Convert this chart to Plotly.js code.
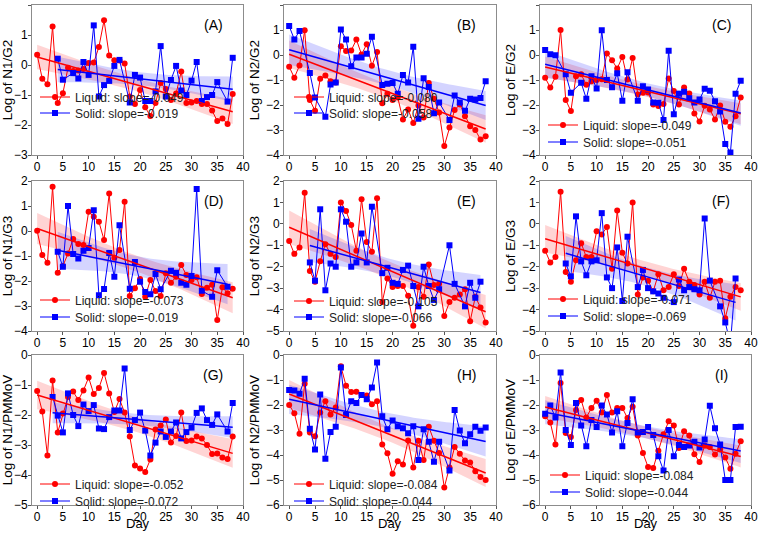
<!DOCTYPE html>
<html><head><meta charset="utf-8">
<script src="https://cdn.plot.ly/plotly-3.0.1.min.js"></script>
<style>html,body{margin:0;padding:0;background:#fff}</style>
</head><body><div id="chart" style="width:759px;height:533px"></div>
<script>
// ---------------- data ----------------
const days = [0,1,2,3,4,5,6,7,8,9,10,11,12,13,14,15,16,17,18,19,20,21,22,23,24,25,26,27,28,29,30,31,32,33,34,35,36,37,38];

const liquidA = [0.34,-0.46,-0.64,1.28,-1.27,-0.94,-0.09,-0.2,-0.18,-0.13,0.07,0.08,0.6,1.49,0.32,0.16,0.15,0.05,-1.05,-1.3,-0.83,-1.41,-1.7,-1.27,-0.6,-0.8,-1.17,-0.95,-0.22,-1.27,-1.25,-1.2,-1.3,-1.3,-1.52,-1.87,-1.78,-1.97,-0.97];
const solidDaysA = [4,5,7,8,9,10,11,12,13,14,15,16,18,19,20,21,22,23,24,25,26,27,28,29,30,31,32,33,34,35,37,38];
const solidA = [0.21,-0.49,-0.27,-0.45,0.1,-0.33,1.32,-1.05,-0.67,-0.53,-0.03,0.17,-1.25,-0.33,-0.42,-1.2,-1.2,-0.88,0.63,-1.05,-0.5,-0.03,-0.85,-1.0,-0.52,0.1,-1.2,-1.07,-1.0,-0.57,-1.22,0.24];

const liquidB = [-0.47,-0.91,-0.42,0.99,-1.8,-2.23,-0.95,-0.82,-1.05,-1.1,0.35,0.16,0.18,0.62,0.02,0.43,-0.43,0.12,-1.93,-1.55,-1.8,-1.7,-2.58,-2.18,-2.72,-2.02,-2.5,-1.12,-1.75,-2.3,-3.64,-2.9,-2.2,-1.98,-2.45,-2.85,-3.0,-3.38,-3.25];
const solidDaysB = [0,1,2,4,5,7,8,9,10,11,12,13,14,15,16,18,19,20,21,22,23,24,25,26,27,28,29,31,32,33,34,35,36,37,38];
const solidB = [1.16,0.62,0.96,-0.72,-1.7,-2.47,-1.18,-1.1,1.02,0.62,-0.45,-0.1,-0.1,0.05,0.73,-1.2,-1.15,-1.12,-1.55,-0.8,-1.1,0.33,-2.55,-0.93,-1.28,-2.33,-1.9,-2.6,-1.62,-1.9,-2.23,-1.75,-1.78,-1.72,-1.05];

const liquidC = [-0.91,-1.3,-0.87,1.0,-1.8,-2.24,-0.85,-0.77,-1.19,-1.05,-1.0,-0.97,0.06,-0.21,-0.54,-0.08,-0.98,-0.12,-1.58,-1.51,-1.5,-1.98,-2.04,-1.96,-0.94,-1.44,-1.98,-1.3,-1.54,-2.34,-2.66,-2.03,-2.18,-2.58,-2.02,-2.67,-2.87,-2.45,-1.7];
const solidDaysC = [0,1,2,4,5,7,8,9,10,11,12,13,14,15,16,18,19,20,21,22,23,24,25,26,27,28,29,30,31,32,33,34,35,36,37,38];
const solidC = [0.2,0.03,-0.01,-0.77,-1.51,-1.11,-1.75,-0.85,-1.34,0.99,-1.0,-1.29,-0.73,-1.83,-0.69,-1.83,-1.25,-1.38,-1.9,-1.91,-2.6,0.17,-2.37,-1.55,-1.47,-1.73,-1.9,-1.78,-1.35,-1.43,-1.85,-2.26,-3.56,-3.9,-1.55,-1.03];

const liquidD = [0.01,-0.96,-1.27,1.77,-1.67,-1.4,-0.9,-0.32,-0.52,-0.56,0.77,0.57,0.37,-0.36,1.5,-1.07,-0.76,1.17,-2.6,-2.29,-1.92,-2.63,-1.96,-2.4,-2.6,-1.69,-2.07,-1.83,-1.36,-1.76,-1.96,-1.85,-2.52,-2.27,-2.15,-3.56,-2.25,-2.49,-2.31];
const solidDaysD = [4,5,6,7,8,9,10,11,12,13,14,15,16,18,19,20,21,22,23,24,26,27,28,29,30,31,32,34,35,37];
const solidD = [-0.83,-1.43,1.0,-0.92,-1.1,-0.79,-0.68,0.83,-2.57,-2.32,-0.88,-1.83,0.23,-2.31,-1.24,-2.03,-2.44,-2.53,-1.72,-2.33,-1.59,-1.67,-2.07,-2.15,-1.8,1.68,-2.39,-2.63,-1.57,-2.23];

const liquidE = [-0.8,-1.4,-1.1,1.45,-2.2,-2.7,-1.75,-0.95,-1.4,-1.55,1.0,0.6,-0.05,-1.25,1.15,-0.85,-1.3,1.2,-3.65,-2.55,-2.95,-2.9,-2.9,-3.35,-4.75,-2.95,-3.4,-1.9,-2.85,-2.8,-4.3,-3.65,-3.45,-3.3,-3.05,-4.55,-3.4,-3.9,-4.6];
const solidDaysE = [4,5,6,7,8,9,10,11,12,13,14,15,16,18,19,20,21,22,23,24,25,26,27,28,29,31,32,34,35,36,37];
const solidE = [-1.8,-2.65,0.68,-3.1,-1.85,-2.0,0.68,0.1,-2.0,-1.8,-0.45,-1.8,0.8,-2.3,-2.05,-2.75,-2.8,-2.15,-1.95,-2.9,-3.85,-2.0,-2.9,-3.55,-3.05,-1.0,-2.8,-3.85,-2.75,-3.45,-2.7];

const liquidF = [-1.25,-1.8,-1.55,1.5,-2.25,-2.7,-1.7,-0.9,-1.55,-1.55,-0.35,-0.5,-0.15,-2.1,0.62,-1.35,-1.85,1.0,-3.3,-2.5,-2.65,-3.15,-2.35,-3.1,-2.95,-2.35,-2.9,-2.1,-2.7,-2.85,-3.3,-2.7,-3.45,-2.7,-2.65,-4.4,-3.4,-2.95,-3.1];
const solidDaysF = [4,5,6,7,8,9,10,11,12,13,14,15,16,18,19,20,21,22,23,25,26,27,28,29,30,31,32,34,35,36,37];
const solidF = [-1.85,-2.45,0.35,-1.75,-2.4,-1.75,-1.7,0.5,-2.5,-3.0,-1.1,-3.6,-0.6,-2.95,-2.15,-3.0,-3.15,-3.25,-3.45,-3.65,-2.6,-3.1,-2.95,-3.05,-3.1,0.25,-2.65,-3.85,-4.6,-5.6,-2.55];

const liquidG = [-1.2,-1.88,-3.35,-0.85,-2.58,-1.95,-1.4,-1.22,-1.5,-1.18,-0.75,-1.3,-1.1,-0.6,-1.28,-1.9,-1.47,-1.92,-2.72,-3.68,-3.78,-3.9,-3.48,-2.48,-2.35,-2.15,-2.92,-2.7,-1.92,-2.87,-2.85,-2.72,-2.78,-3.0,-3.3,-3.28,-3.42,-3.47,-2.72];
const solidDaysG = [3,4,5,6,7,8,9,10,11,12,13,14,15,16,17,18,19,20,21,22,23,24,25,26,27,28,29,30,31,32,33,34,35,37,38];
const solidG = [-1.4,-2.02,-2.58,-1.28,-2.0,-2.37,-1.65,-1.87,-1.67,-2.45,-2.47,-2.07,-1.85,-1.85,-0.45,-2.5,-2.17,-1.92,-2.52,-3.35,-2.92,-2.55,-2.73,-2.55,-2.25,-2.78,-2.57,-2.42,-1.93,-1.78,-2.17,-2.33,-1.98,-2.55,-1.6];

const liquidH = [-2.0,-2.33,-3.15,-1.15,-3.1,-3.25,-2.3,-1.85,-2.38,-2.1,-0.45,-1.23,-1.48,-1.47,-1.6,-1.62,-1.97,-1.85,-3.58,-3.93,-4.75,-4.25,-4.38,-3.42,-4.5,-3.43,-4.2,-2.87,-3.43,-3.92,-5.3,-4.5,-3.68,-3.95,-4.22,-4.3,-4.65,-4.88,-5.0];
const solidDaysH = [0,1,2,3,4,5,6,7,8,9,10,11,12,13,14,15,16,17,18,19,20,21,22,23,24,25,26,27,28,29,31,32,33,34,35,36,37,38];
const solidH = [-1.4,-1.42,-1.55,-0.95,-2.95,-3.78,-1.58,-4.15,-3.08,-2.87,-0.5,-2.4,-1.85,-1.92,-1.6,-1.77,-1.3,-0.3,-2.45,-2.97,-2.62,-2.85,-2.93,-3.13,-2.85,-4.2,-2.97,-3.47,-4.27,-3.47,-4.62,-2.2,-3.02,-3.53,-3.17,-2.87,-3.03,-2.9];

const liquidI = [-2.45,-2.7,-3.58,-1.12,-3.12,-3.28,-2.2,-1.8,-2.5,-2.12,-1.83,-2.3,-1.6,-2.3,-2.12,-2.12,-2.52,-2.07,-3.22,-3.92,-4.48,-4.52,-3.83,-3.17,-2.65,-2.82,-3.72,-3.05,-3.22,-3.97,-4.28,-3.62,-3.68,-3.98,-3.78,-4.1,-4.55,-3.95,-3.45];
const solidDaysI = [0,1,2,3,4,5,6,7,8,9,10,11,12,13,14,15,16,17,18,19,20,21,22,23,24,25,26,27,28,29,30,31,32,33,34,35,36,37,38];
const solidI = [-2.35,-2.02,-2.5,-0.7,-3.0,-3.6,-1.92,-2.82,-3.65,-2.6,-2.88,-2.02,-2.38,-3.1,-2.25,-3.65,-2.72,-1.77,-3.1,-3.08,-2.88,-3.2,-4.05,-4.62,-3.0,-4.05,-3.6,-3.68,-3.62,-3.47,-3.7,-3.38,-2.03,-2.93,-3.58,-5.0,-5.0,-2.88,-2.87];

const panelLabels = ['(A)','(B)','(C)','(D)','(E)','(F)','(G)','(H)','(I)'];
const yTitles = ['Log of N1/G2','Log of N2/G2','Log of E/G2','Log of N1/G3','Log of N2/G3','Log of E/G3','Log of N1/PMMoV','Log of N2/PMMoV','Log of E/PMMoV'];
const liquidLabels = ['Liquid: slope=-0.049','Liquid: slope=-0.080','Liquid: slope=-0.049','Liquid: slope=-0.073','Liquid: slope=-0.105','Liquid: slope=-0.071','Liquid: slope=-0.052','Liquid: slope=-0.084','Liquid: slope=-0.084'];
const solidLabels = ['Solid: slope=-0.019','Solid: slope=-0.058','Solid: slope=-0.051','Solid: slope=-0.019','Solid: slope=-0.066','Solid: slope=-0.069','Solid: slope=-0.072','Solid: slope=-0.044','Solid: slope=-0.044'];
const yMin = [-3,-4,-4,-4,-5,-5,-5,-6,-6];
const yMax = [2,2,2,2,2,2,0,0,0];
const xTitle = 'Day';

const liquidSeries = [liquidA,liquidB,liquidC,liquidD,liquidE,liquidF,liquidG,liquidH,liquidI];
const solidDaySeries = [solidDaysA,solidDaysB,solidDaysC,solidDaysD,solidDaysE,solidDaysF,solidDaysG,solidDaysH,solidDaysI];
const solidSeries = [solidA,solidB,solidC,solidD,solidE,solidF,solidG,solidH,solidI];

// ---------------- layout geometry (px) ----------------
const W = 759, H = 533;
const ML = 32, MR = 8, MT = 5, MB = 28;
const PW = W - ML - MR, PH = H - MT - MB;
const fx = p => (p - ML) / PW;
const fy = p => (H - MB - p) / PH;
const colL = [32, 284, 540], colR = [243, 496, 751];
const rowT = [5, 181, 355], rowB = [155, 331, 505];
const legRow1 = [97, 97, 125, 300, 301, 299, 484, 484, 475];
const legRow2 = [113, 113, 142, 317, 317, 316, 501, 501, 492];
const legLineX = [44, 298, 552, 44, 298, 552, 44, 298, 554];
const FONT = 'Liberation Sans, Arial, sans-serif';
const RED = '#ff0000', BLUE = '#0000ff';

function fit(xs, ys) {
  const n = xs.length;
  const mx = xs.reduce((a, b) => a + b, 0) / n;
  const my = ys.reduce((a, b) => a + b, 0) / n;
  let sxx = 0, sxy = 0;
  for (let i = 0; i < n; i++) { sxx += (xs[i] - mx) ** 2; sxy += (xs[i] - mx) * (ys[i] - my); }
  const b = sxy / sxx, a = my - b * mx;
  let sse = 0;
  for (let i = 0; i < n; i++) sse += (ys[i] - a - b * xs[i]) ** 2;
  const s = Math.sqrt(sse / (n - 2));
  const t = 2.03;
  const x0 = Math.min(...xs), x1 = Math.max(...xs);
  const gx = [], hi = [], lo = [], yy = [];
  for (let k = 0; k <= 60; k++) {
    const x = x0 + (x1 - x0) * k / 60;
    const yh = a + b * x;
    const h = t * s * Math.sqrt(1 / n + (x - mx) ** 2 / sxx);
    gx.push(x); yy.push(yh); hi.push(yh + h); lo.push(yh - h);
  }
  return { gx, yy, hi, lo };
}

const traces = [];
const layout = {
  width: W, height: H,
  margin: { l: ML, r: MR, t: MT, b: MB },
  paper_bgcolor: '#fff', plot_bgcolor: '#fff',
  font: { family: FONT, size: 12, color: '#000' },
  showlegend: true,
  annotations: []
};

function legendBox(lineX, cy) {
  return {
    x: fx(lineX - 9), y: fy(cy), xanchor: 'left', yanchor: 'middle',
    xref: 'paper', yref: 'paper',
    bgcolor: 'rgba(0,0,0,0)', borderwidth: 0, itemwidth: 30,
    font: { family: FONT, size: 12, color: '#222' }
  };
}

for (let i = 0; i < 9; i++) {
  const r = Math.floor(i / 3), c = i % 3;
  const sfx = i === 0 ? '' : String(i + 1);
  const xa = 'x' + sfx, ya = 'y' + sfx;
  const legL = 'legend' + (2 * i + 1 === 1 ? '' : String(2 * i + 1));
  const legS = 'legend' + String(2 * i + 2);

  const fl = fit(days, liquidSeries[i]);
  const fs = fit(solidDaySeries[i], solidSeries[i]);

  [[fl, 'rgba(255,0,0,0.17)'], [fs, 'rgba(0,0,255,0.17)']].forEach(([f, col]) => {
    traces.push({
      x: f.gx.concat(f.gx.slice().reverse()),
      y: f.hi.concat(f.lo.slice().reverse()),
      xaxis: xa, yaxis: ya, type: 'scatter', mode: 'lines',
      fill: 'toself', fillcolor: col, line: { width: 0 },
      hoverinfo: 'skip', showlegend: false
    });
  });

  traces.push({
    x: days, y: liquidSeries[i], xaxis: xa, yaxis: ya, type: 'scatter',
    mode: 'lines+markers', name: liquidLabels[i], legend: legL,
    line: { color: RED, width: 1 }, marker: { color: RED, size: 6, symbol: 'circle' }
  });
  traces.push({
    x: solidDaySeries[i], y: solidSeries[i], xaxis: xa, yaxis: ya, type: 'scatter',
    mode: 'lines+markers', name: solidLabels[i], legend: legS,
    line: { color: BLUE, width: 1 }, marker: { color: BLUE, size: 6, symbol: 'square' }
  });

  traces.push({ x: fl.gx, y: fl.yy, xaxis: xa, yaxis: ya, type: 'scatter', mode: 'lines',
    line: { color: RED, width: 1.5 }, showlegend: false, hoverinfo: 'skip' });
  traces.push({ x: fs.gx, y: fs.yy, xaxis: xa, yaxis: ya, type: 'scatter', mode: 'lines',
    line: { color: BLUE, width: 1.5 }, showlegend: false, hoverinfo: 'skip' });

  const axCommon = {
    showline: true, mirror: true, linecolor: '#8c8c8c', linewidth: 1,
    ticks: 'outside', ticklen: 3, tickcolor: '#555', tickwidth: 1,
    ticklabelstandoff: -2,
    showgrid: false, zeroline: false,
    tickfont: { family: FONT, size: 12, color: '#000' }
  };
  layout['xaxis' + sfx] = Object.assign({}, axCommon, {
    domain: [fx(colL[c]), fx(colR[c])], anchor: ya,
    range: [-1, 40], tick0: 0, dtick: 5, title: { text: '' }
  });
  layout['yaxis' + sfx] = Object.assign({}, axCommon, {
    domain: [fy(rowB[r]), fy(rowT[r])], anchor: xa,
    range: [yMin[i], yMax[i]], tick0: 0, dtick: 1,
    title: { text: yTitles[i], font: { family: FONT, size: 13.5, color: '#000' }, standoff: 3 }
  });

  layout[legL] = legendBox(legLineX[i], legRow1[i]);
  layout[legS] = legendBox(legLineX[i], legRow2[i]);

  layout.annotations.push({
    text: panelLabels[i], xref: 'paper', yref: 'paper',
    x: fx(colR[c] - 30), y: fy(rowT[r] + 20),
    xanchor: 'center', yanchor: 'middle', showarrow: false,
    font: { family: FONT, size: 14, color: '#000' }
  });

  if (r === 2) {
    layout.annotations.push({
      text: xTitle, xref: xa + ' domain', yref: 'paper',
      x: 0.5, y: fy(H), xanchor: 'center', yanchor: 'bottom',
      showarrow: false, font: { family: FONT, size: 13, color: '#000' }
    });
  }
}

Plotly.newPlot('chart', traces, layout, { staticPlot: true, displayModeBar: false });
</script></body></html>
